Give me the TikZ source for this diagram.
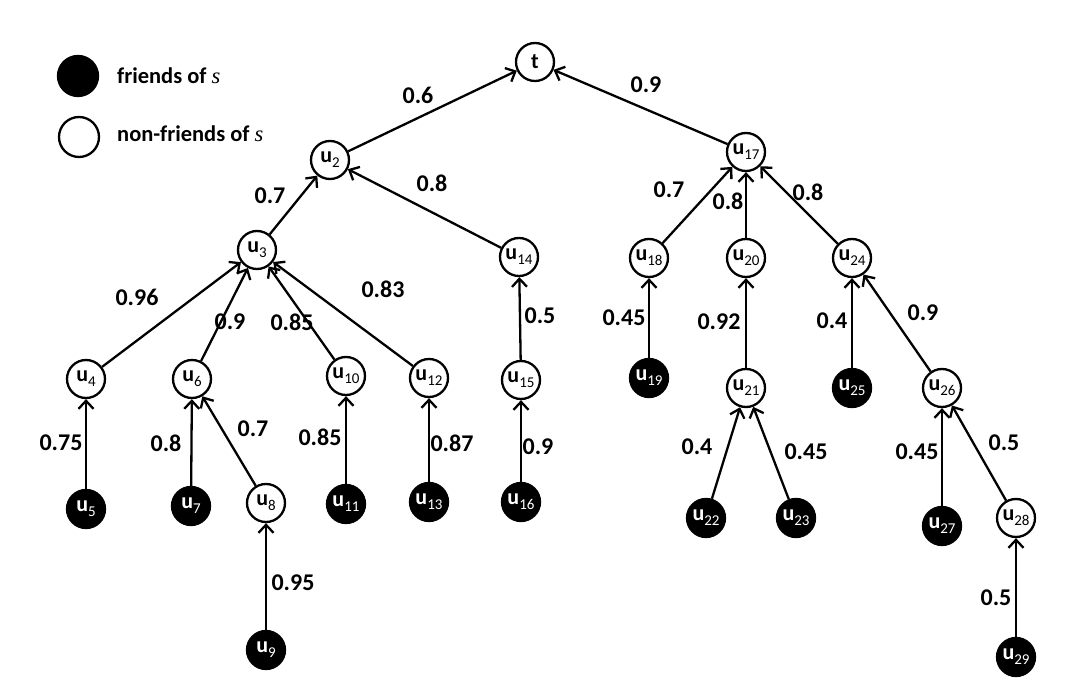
\documentclass[tikz,border=0pt]{standalone}
\usepackage{fontspec}
\setmainfont{Carlito}
\newfontfamily\timesf{Liberation Serif}
\usetikzlibrary{arrows.meta}
\newcommand{\UU}[1]{u\raisebox{-0.45ex}{\fontsize{15}{15}\selectfont\mdseries #1}}
\begin{document}
\begin{tikzpicture}[x=1pt,y=-1pt,
  vtx/.style={circle,draw=black,line width=2.3pt,minimum size=38pt,inner sep=0pt,font=\fontsize{22}{22}\selectfont\bfseries},
  fr/.style={vtx,fill=black,text=white},
  nf/.style={vtx,fill=white},
  edge/.style={line width=2.3pt,-{Straight Barb[length=8pt,width=15pt,line width=2.3pt]}},
  wt/.style={font=\fontsize{24}{24}\selectfont\bfseries,inner sep=0pt},
  lg/.style={font=\fontsize{22.5}{22.5}\selectfont\bfseries,anchor=west,inner sep=0pt}]
\useasboundingbox (0,0) rectangle (1069,700);

% legend
\node[fr,minimum size=40pt] (lf) at (78,76) {};
\node[lg] (lft) at (117,76) {friends of {\timesf\mdseries\itshape s}};
\node[nf,minimum size=40pt] (ln) at (79,137) {};
\node[lg] (lnt) at (117,134) {non-friends of {\timesf\mdseries\itshape s}};

% vertices
\node[nf] (t) at (535,62) {t};
\node[nf] (u2) at (330,160) {\UU{2}};
\node[nf] (u17) at (746,152) {\UU{17}};
\node[nf] (u3) at (257,250) {\UU{3}};
\node[nf] (u14) at (519,257) {\UU{14}};
\node[nf] (u18) at (649,258) {\UU{18}};
\node[nf] (u20) at (746,258) {\UU{20}};
\node[nf] (u24) at (852,258) {\UU{24}};
\node[nf] (u4) at (86,379) {\UU{4}};
\node[nf] (u6) at (192,379) {\UU{6}};
\node[nf] (u10) at (346,376) {\UU{10}};
\node[nf] (u12) at (429,378) {\UU{12}};
\node[nf] (u15) at (521,380) {\UU{15}};
\node[fr] (u19) at (649,378) {\UU{19}};
\node[nf] (u21) at (746,388) {\UU{21}};
\node[fr] (u25) at (852,388) {\UU{25}};
\node[nf] (u26) at (942,388) {\UU{26}};
\node[fr] (u5) at (86,509) {\UU{5}};
\node[fr] (u7) at (191,506) {\UU{7}};
\node[nf] (u8) at (266,503) {\UU{8}};
\node[fr] (u11) at (346,504) {\UU{11}};
\node[fr] (u13) at (429,502) {\UU{13}};
\node[fr] (u16) at (521,502) {\UU{16}};
\node[fr] (u22) at (706,518) {\UU{22}};
\node[fr] (u23) at (796,518) {\UU{23}};
\node[fr] (u27) at (942,526) {\UU{27}};
\node[nf] (u28) at (1016,518) {\UU{28}};
\node[fr] (u9) at (266,650) {\UU{9}};
\node[fr] (u29) at (1016,657) {\UU{29}};

% edges
\draw[edge] (u2) -- (t);
\draw[edge] (u17) -- (t);
\draw[edge] (u3) -- (u2);
\draw[edge] (u14) -- (u2);
\draw[edge] (u18) -- (u17);
\draw[edge] (u20) -- (u17);
\draw[edge] (u24) -- (u17);
\draw[edge] (u4) -- (u3);
\draw[edge] (u6) -- (u3);
\draw[edge] (u10) -- (u3);
\draw[edge] (u12) -- (u3);
\draw[edge] (u15) -- (u14);
\draw[edge] (u19) -- (u18);
\draw[edge] (u21) -- (u20);
\draw[edge] (u25) -- (u24);
\draw[edge] (u26) -- (u24);
\draw[edge] (u5) -- (u4);
\draw[edge] (u7) -- (u6);
\draw[edge] (u8) -- (u6);
\draw[edge] (u11) -- (u10);
\draw[edge] (u13) -- (u12);
\draw[edge] (u16) -- (u15);
\draw[edge] (u22) -- (u21);
\draw[edge] (u23) -- (u21);
\draw[edge] (u27) -- (u26);
\draw[edge] (u28) -- (u26);
\draw[edge] (u9) -- (u8);
\draw[edge] (u29) -- (u28);

% weights
\node[wt] (w1) at (418,95) {0.6};
\node[wt] (w2) at (646,85) {0.9};
\node[wt] (w3) at (270,196) {0.7};
\node[wt] (w4) at (432,183) {0.8};
\node[wt] (w5) at (669,190) {0.7};
\node[wt] (w6) at (728,201) {0.8};
\node[wt] (w7) at (808,192) {0.8};
\node[wt] (w8) at (137,297) {0.96};
\node[wt] (w9) at (230,322) {0.9};
\node[wt] (w10) at (292,322) {0.85};
\node[wt] (w11) at (383,289) {0.83};
\node[wt] (w12) at (540,316) {0.5};
\node[wt] (w13) at (624,318) {0.45};
\node[wt] (w14) at (719,322) {0.92};
\node[wt] (w15) at (832,321) {0.4};
\node[wt] (w16) at (923,313) {0.9};
\node[wt] (w17) at (61,443) {0.75};
\node[wt] (w18) at (166,443) {0.8};
\node[wt] (w19) at (253,429) {0.7};
\node[wt] (w20) at (320,437) {0.85};
\node[wt] (w21) at (452,443) {0.87};
\node[wt] (w22) at (538,447) {0.9};
\node[wt] (w23) at (697,447) {0.4};
\node[wt] (w24) at (806,452) {0.45};
\node[wt] (w25) at (917,452) {0.45};
\node[wt] (w26) at (1004,443) {0.5};
\node[wt] (w27) at (293,583) {0.95};
\node[wt] (w28) at (996,598) {0.5};
\end{tikzpicture}
\end{document}
